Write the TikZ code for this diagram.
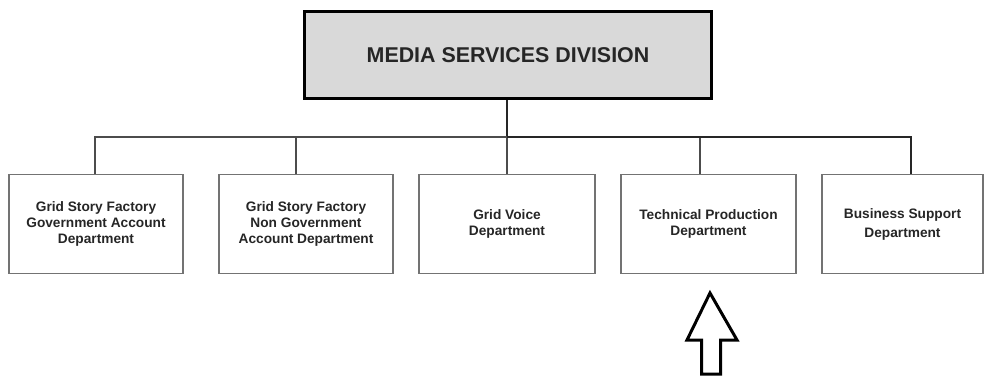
\documentclass[tikz,border=0pt]{standalone}
\usepackage{fontspec}
\setmainfont{Liberation Sans}
\usetikzlibrary{calc}
\begin{document}
\begin{tikzpicture}[x=1pt,y=-1pt,
  topbox/.style={draw=black,line width=3.2pt,fill=black!15,minimum width=407pt,minimum height=87pt,inner sep=0pt,
    font=\fontsize{21.4pt}{25pt}\selectfont\bfseries,text=black!85},
  dept/.style={draw=black!55,line width=1.3pt,minimum height=99pt,inner sep=0pt,align=center,
    font=\fontsize{13.7pt}{16pt}\selectfont\bfseries,text=black!85},
  conn/.style={draw=black!70,line width=1.2pt},
  bigarrow/.style={draw=black,line width=3pt,fill=white,line join=miter}]
\useasboundingbox (0,0) rectangle (989,380);
\fill[white] (0,0) rectangle (989,380);
\node[topbox] (top) at (508,55) {MEDIA SERVICES DIVISION};
\node[dept,minimum width=174pt] (b1) at (96,224) {Grid Story Factory\\Government Account\\Department};
\node[dept,minimum width=174pt] (b2) at (306,224) {Grid Story Factory\\Non Government\\Account Department};
\node[dept,minimum width=176pt] (b3) at (507,224) {Grid Voice\\Department};
\node[dept,minimum width=175pt] (b4) at (708.5,224) {Technical Production\\Department};
\node[dept,minimum width=161pt,font=\fontsize{13.7pt}{19pt}\selectfont\bfseries] (b5) at (902.5,224) {Business Support\\Department};
\coordinate (bus) at (507,137);
\draw[conn,draw=black!85] (top.south -| bus) -- (bus);
\draw[conn] (bus) -| ([xshift=-1pt]b1.north);
\draw[conn] (bus) -| ([xshift=-10pt]b2.north);
\draw[conn] (bus) -- (b3.north);
\draw[conn] (bus) -| ([xshift=-8.5pt]b4.north);
\draw[conn,draw=black!85] (bus) -| ([xshift=8.5pt]b5.north);
\draw[bigarrow] (710,293) -- (737,340) -- (720.5,340) -- (720.5,374) -- (701.5,374) -- (701.5,340) -- (687,340) -- cycle;
\end{tikzpicture}
\end{document}
